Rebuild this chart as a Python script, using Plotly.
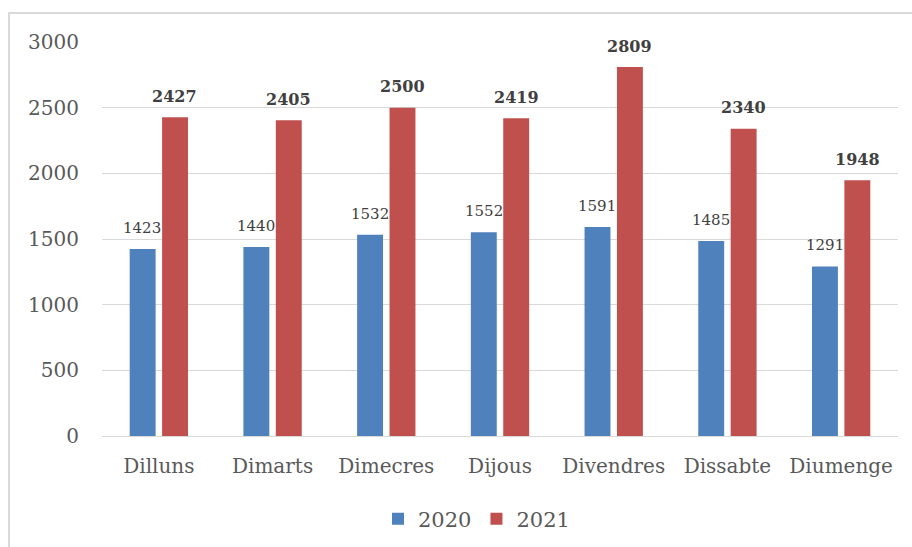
import plotly.graph_objects as go

days = ["Dilluns", "Dimarts", "Dimecres", "Dijous", "Divendres", "Dissabte", "Diumenge"]
v2020 = [1423, 1440, 1532, 1552, 1591, 1485, 1291]
v2021 = [2427, 2405, 2500, 2419, 2809, 2340, 1948]

BLUE = "#4F81BD"
RED = "#C0504D"
TXT = "#595959"
FONT = "DejaVu Serif"

W, H = 912, 547
ML, MR, MT, MB = 102, 14, 42, 111

fig = go.Figure()
fig.add_trace(go.Bar(x=days, y=v2020, name="2020", marker=dict(color=BLUE, line=dict(width=0))))
fig.add_trace(go.Bar(x=days, y=v2021, name="2021", marker=dict(color=RED, line=dict(width=0))))

ann = []
for d, a, b in zip(days, v2020, v2021):
    ann.append(dict(x=d, y=a, text=str(a), showarrow=False, xshift=-16.5, yshift=21,
                    font=dict(family=FONT, size=15, color="#404040")))
    ann.append(dict(x=d, y=b, text="<b>%d</b>" % b, showarrow=False, xshift=16, yshift=21,
                    font=dict(family=FONT, size=16, color="#404040")))

pw = W - ML - MR
ph = H - MT - MB
fig.update_layout(
    width=W, height=H,
    margin=dict(l=ML, r=MR, t=MT, b=MB, pad=0, autoexpand=False),
    paper_bgcolor="white", plot_bgcolor="white",
    barmode="group", bargap=0.43, bargroupgap=0.2,
    font=dict(family=FONT, size=20, color=TXT),
    annotations=ann,
    showlegend=True,
    legend=dict(orientation="h", x=(378 - ML) / pw, xanchor="left", y=-(519 - (H - MB)) / ph, yanchor="middle",
                font=dict(family=FONT, size=21, color=TXT), itemwidth=30, traceorder="normal"),
    xaxis=dict(showgrid=False, showline=True, linecolor="#d9d9d9", linewidth=1, automargin=False,
               ticks="", ticklabelstandoff=12, tickfont=dict(family=FONT, size=20, color=TXT)),
    yaxis=dict(range=[0, 3000], dtick=500, showgrid=True, gridcolor="#d9d9d9", gridwidth=1,
               zeroline=True, zerolinecolor="#d9d9d9", zerolinewidth=1, automargin=False,
               showline=False, ticks="", ticklabelstandoff=22,
               tickfont=dict(family=FONT, size=20, color=TXT)),
    shapes=[dict(type="rect", xref="paper", yref="paper",
                 x0=(9 - ML) / pw, x1=1.2, y0=-0.5, y1=1 + (MT - 13) / ph,
                 line=dict(color="#d9d9d9", width=2), fillcolor="rgba(0,0,0,0)", layer="below")],
)

fig.write_html("out.html", config={"displayModeBar": False},
               post_script="document.body.style.margin='0';")
